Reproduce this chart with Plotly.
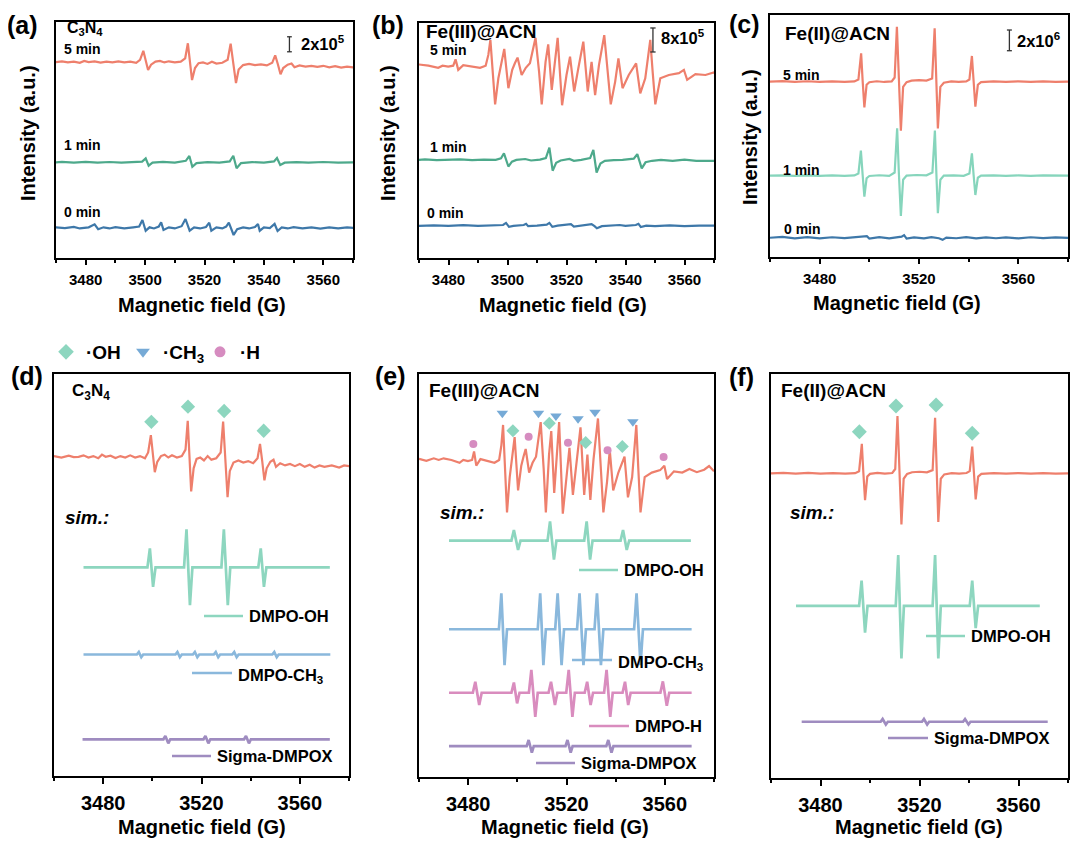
import plotly.graph_objects as go

W, H = 1080, 845
SH = 8  # page body margin of the html page, compensated here
FONT = "Arial, 'Liberation Sans', Helvetica, sans-serif"

# ------------------------------------------------------------------ data
# (field in G, intensity in units of 1e5 counts)
C3N4_5MIN = [(3460,0.05),(3463,-0.05),(3466,0.08),(3468,-0.02),(3470,0.0),(3472,0.1),(3474,-0.05),(3476,0.05),
             (3478,-0.1),(3479.5,0.15),(3481,0.0),(3483,0.08),(3485,-0.08),(3487,0.05),(3489,-0.05),(3491,0.1),
             (3493,-0.05),(3495,0.05),(3497,-0.1),(3498.3,0.3),(3499.4,1.5),(3500.3,0.1),(3501.0,-1.07),(3502,-0.35),
             (3503.5,0.05),(3505,0.15),(3506.5,-0.05),(3508,0.1),(3510,-0.05),(3512,0.05),(3513.5,0.5),(3514.4,2.5),
             (3515.1,0.1),(3515.8,-2.4),(3516.8,-0.8),(3518,-0.15),(3519.5,-0.05),(3521,-0.25),(3522.5,0.05),
             (3524,-0.2),(3526,-0.1),(3527.8,0.3),(3528.8,2.45),(3529.7,0.0),(3530.6,-2.8),(3531.5,-1.0),(3533,-0.4),
             (3535,-0.25),(3537,-0.4),(3539,-0.3),(3541,-0.45),(3542.8,-0.1),(3543.8,0.9),(3544.7,-0.3),
             (3545.6,-1.64),(3546.5,-0.8),(3548,-0.35),(3549.3,-0.2),(3550.3,-0.7),(3552,-0.45),(3554,-0.6),
             (3556,-0.5),(3558,-0.65),(3560,-0.5),(3562,-0.7),(3564,-0.55),(3566,-0.75),(3568,-0.6),(3570,-0.7),
             (3573,-0.6),(3576,-0.75),(3578,-0.6),(3580,-0.65)]
C3N4_1MIN = [(3460,0.0),(3464,0.05),(3468,-0.05),(3472,0.05),(3476,-0.03),(3480,0.05),(3484,-0.05),(3488,0.04),
             (3492,-0.03),(3496,0.04),(3499,0.1),(3500.2,0.53),(3501.2,-0.45),(3502.5,-0.05),(3506,0.05),(3510,-0.04),
             (3513.7,0.2),(3514.9,0.84),(3515.9,-0.59),(3517.3,-0.1),(3521,0.03),(3525,-0.04),(3528.5,0.12),
             (3529.7,0.88),(3530.8,-0.8),(3532.3,-0.1),(3536,0.03),(3540,-0.03),(3543.4,0.12),(3544.4,0.57),
             (3545.5,-0.36),(3547,-0.05),(3551,0.03),(3555,-0.03),(3560,0.04),(3565,-0.03),(3570,0.03),(3575,-0.02),
             (3580,0.0)]
C3N4_0MIN = [(3460,0.0),(3464,0.08),(3467,-0.08),(3470,0.05),(3473,-0.05),(3476,0.1),(3478,-0.1),(3481,0.05),
             (3483,0.45),(3484.2,-0.2),(3486,0.05),(3488,-0.1),(3490,0.08),(3493,-0.08),(3496,0.05),(3498,0.15),
             (3499.1,1.03),(3500.2,-0.4),(3501.5,0.05),(3503,-0.1),(3504.6,0.15),(3505.4,0.72),(3506.2,-0.3),
             (3508,0.05),(3510,-0.1),(3512.3,0.2),(3513.6,1.16),(3515,-0.4),(3516.5,0.05),(3518.5,-0.1),(3520.5,0.1),
             (3521.6,0.67),(3522.3,-0.4),(3524,0.05),(3526,-0.1),(3527.3,0.15),(3528.2,0.67),(3529.8,-0.97),
             (3531,-0.2),(3533,0.05),(3535,-0.1),(3537,0.1),(3538,0.5),(3538.6,-0.4),(3540,0.05),(3542,-0.05),
             (3543.6,0.5),(3544.6,-0.44),(3546,0.05),(3548,-0.1),(3550,0.08),(3553,-0.1),(3556,0.05),(3559,-0.12),
             (3562,0.05),(3565,-0.08),(3568,0.05),(3571,-0.06),(3575,0.05),(3580,-0.02)]

FE3_5MIN = [(3460,0.3),(3463,-0.2),(3466,0.4),(3468,0.0),(3470,0.4),(3473.2,0.0),(3476.5,-0.7),(3478,0.0),
            (3479.9,-0.3),(3481.6,0.0),(3482.4,2.1),(3483.3,-1.4),(3485,0.2),(3487.8,-0.3),(3490.7,-0.7),
            (3492.6,0.0),(3493.5,3.6),(3494.2,8.6),(3495,-2.0),(3495.8,-12.9),(3496.9,-4.2),(3497.8,0.2),
            (3498.9,5.6),(3500.3,-7.5),(3501.6,-1.4),(3502.5,0.8),(3503.4,2.7),(3504.8,-3.1),(3506.2,-0.7),
            (3507.6,0.8),(3509.5,9.3),(3510.7,-2.0),(3511.6,-12.9),(3512.9,1.3),(3513.8,7.1),(3515,-8.1),
            (3516,1.0),(3517,9.3),(3518.5,-13.2),(3520,-3.1),(3521.2,3.0),(3522.6,-8.6),(3524,-0.9),(3525.7,8.0),
            (3527.2,-8.6),(3528.5,1.3),(3529.7,-9.8),(3531,0.2),(3532.8,10.2),(3534.2,-3.1),(3535,-12.9),
            (3536.5,-5.3),(3537.6,2.4),(3539,-7.5),(3541.1,-3.1),(3543.6,0.8),(3545,-9.2),(3546.7,-4.2),
            (3548.4,8.6),(3549.2,-2.0),(3550.1,-12.9),(3551.8,-4.2),(3554.7,-3.1),(3558.1,-2.5),(3559.8,-1.4),
            (3560.9,-4.7),(3563.7,-2.8),(3567.1,-3.1),(3570,-2.2),(3573,-3.0),(3576,-2.4),(3578,-1.5),(3580,-2.8)]
FE3_1MIN = [(3460,0.0),(3464,0.2),(3468,-0.1),(3472,0.15),(3476,-0.1),(3480,0.1),(3484,0.2),(3488,-0.1),
            (3492,0.1),(3496,0.0),(3497.8,0.5),(3498.8,2.2),(3500.3,-2.2),(3501.5,-0.6),(3503,0.0),(3506,0.3),
            (3508,-0.2),(3511,0.1),(3513,0.6),(3514.2,4.1),(3515.3,-3.6),(3516.5,-1.0),(3518,-0.2),(3521,0.3),
            (3522.5,-0.3),(3525,0.0),(3528,0.6),(3529.1,3.3),(3530.2,-4.2),(3531.5,-1.2),(3533,-0.3),(3536,-0.1),
            (3539,0.0),(3542.8,0.4),(3544,1.9),(3545.5,-2.8),(3546.8,-0.8),(3549,-0.3),(3552,0.0),(3556,-0.3),
            (3560,0.1),(3564,-0.3),(3568,-0.2),(3572,-0.35),(3576,-0.2),(3580,-0.3)]
FE3_0MIN = [(3460,0.0),(3465,0.15),(3470,-0.1),(3475,0.1),(3480,-0.1),(3485,0.15),(3490,-0.1),(3495,0.05),
            (3498.5,0.2),(3499.5,0.9),(3500.5,-0.4),(3502,-0.1),(3505.5,0.2),(3506.3,0.6),(3507,-0.2),(3510,0.0),
            (3513.3,0.3),(3514.2,0.9),(3515.2,-0.4),(3517,0.0),(3521.5,0.5),(3522.5,-0.3),(3525,0.0),(3528.5,0.5),
            (3529.5,-0.2),(3530.3,-0.9),(3532,-0.2),(3535,0.0),(3538,0.2),(3540,-0.1),(3543.5,0.2),(3544.4,0.6),
            (3545.2,-0.5),(3547,0.0),(3550,-0.15),(3555,0.1),(3560,-0.2),(3565,0.0),(3570,-0.15),(3575,0.0),
            (3580,-0.1)]

FE2_5MIN = [(3460,0.0),(3465,0.5),(3470,-0.3),(3475,0.4),(3480,-0.2),(3485,0.3),(3490,-0.3),(3494,0.2),
            (3495.6,2.0),(3496.7,27.4),(3497.3,1.0),(3498,-24.8),(3498.9,-3.0),(3500,-0.5),(3503,0.4),(3506,-0.3),
            (3509,0.3),(3510.2,4.0),(3511.1,53.1),(3511.8,2.0),(3512.7,-47.3),(3513.6,-5.0),(3515,-0.5),(3517,1.0),
            (3520,1.5),(3523,1.0),(3525.3,3.0),(3526.3,51.5),(3527,2.0),(3527.6,-45.1),(3528.6,-5.0),(3530,-1.0),
            (3533,0.2),(3536,-0.3),(3539,0.3),(3540.3,2.0),(3541.3,24.8),(3542,0.5),(3542.7,-24.2),(3543.7,-3.0),
            (3545,-0.5),(3550,0.3),(3555,-0.3),(3560,0.3),(3565,-0.2),(3570,0.2),(3575,-0.3),(3580,0.0)]
FE2_1MIN = [(3460,0.0),(3465,0.3),(3470,-0.3),(3475,0.3),(3480,-0.2),(3485,0.3),(3490,-0.2),(3494,0.2),
            (3495.6,2.0),(3496.6,24.2),(3497.3,1.0),(3498,-20.3),(3498.9,-2.5),(3500,-0.3),(3504,0.4),(3508,-0.2),
            (3510.2,3.0),(3511.2,45.8),(3511.9,2.0),(3512.7,-39.0),(3513.6,-4.0),(3515,0.0),(3519,0.6),(3523,0.3),
            (3525.4,3.0),(3526.4,43.5),(3527,2.0),(3527.6,-36.3),(3528.6,-4.0),(3530,0.0),(3534,0.3),(3538,-0.2),
            (3540.3,2.0),(3541.3,21.6),(3542,0.5),(3542.7,-18.7),(3543.7,-2.0),(3545,0.0),(3550,0.3),(3555,-0.2),
            (3560,0.2),(3565,-0.2),(3570,0.2),(3575,-0.2),(3580,0.0)]
FE2_0MIN = [(3460,0.0),(3465,0.8),(3470,-0.5),(3475,0.6),(3480,-0.6),(3485,0.5),(3490,-0.4),(3495,0.6),
            (3499,1.5),(3500,-0.8),(3504,0.6),(3508,-0.6),(3513,1.0),(3514,2.5),(3515,-0.8),(3518,0.4),(3522,-0.6),
            (3525,0.5),(3528,-0.5),(3529.5,-2.0),(3531,0.2),(3535,-0.5),(3539,0.6),(3543,-0.6),(3547,0.4),
            (3551,-0.5),(3555,0.4),(3560,-0.6),(3565,0.5),(3570,-0.4),(3575,0.3),(3580,-0.2)]

# simulated spectra (a.u.)
SIM_D_OH = [(3472,0),(3498,0),(3499,1.32),(3500.3,-1.35),(3501.3,0),(3512.9,0),(3513.9,2.64),(3515.3,-2.62),
            (3516.3,0),(3528.1,0),(3529.1,2.64),(3530.7,-2.62),(3531.7,0),(3543.1,0),(3544.1,1.32),(3545.4,-1.35),
            (3546.4,0),(3572.2,0)]
SIM_D_CH3 = [(3472,0),(3493.7,0),(3494.5,0.17),(3495.5,-0.19),(3496.3,0),(3509.4,0),(3510.2,0.17),(3511.2,-0.19),
             (3512,0),(3516.5,0),(3517.3,0.17),(3518.3,-0.19),(3519.1,0),(3525,0),(3525.8,0.17),(3526.8,-0.19),
             (3527.6,0),(3532.5,0),(3533.3,0.17),(3534.3,-0.19),(3535.1,0),(3548.8,0),(3549.6,0.17),
             (3550.6,-0.19),(3551.4,0),(3572.4,0)]
SIM_D_SIG = [(3471.6,0),(3504.5,0),(3505.3,0.23),(3506.5,-0.28),(3507.3,0),(3520.8,0),(3521.6,0.23),
             (3522.8,-0.28),(3523.6,0),(3537.3,0),(3538.1,0.23),(3539.3,-0.28),(3540.1,0),(3572.2,0)]
SIM_E_OH = [(3472.2,0),(3497.6,0),(3498.6,2.6),(3500.3,-2.3),(3501.3,0),(3512.3,0),(3513.3,4.7),(3514.9,-4.7),
            (3515.9,0),(3527.2,0),(3528.2,4.7),(3529.6,-4.7),(3530.6,0),(3542,0),(3543,2.6),(3544.5,-2.3),
            (3545.5,0),(3570.6,0)]
SIM_E_CH3 = [(3472.2,0),(3492.5,0),(3493.5,8.85),(3494.8,-8.8),(3495.8,0),(3508.3,0),(3509.3,8.85),
             (3510.6,-8.8),(3511.6,0),(3515.4,0),(3516.4,8.85),(3518,-8.8),(3519,0),(3524.3,0),(3525.3,8.85),
             (3526.9,-8.8),(3527.9,0),(3531.4,0),(3532.4,8.85),(3534,-8.8),(3535,0),(3547.5,0),(3548.5,8.85),
             (3550.1,-8.8),(3551.1,0),(3570.9,0)]
SIM_E_H = [(3472.2,0),(3481.9,0),(3482.9,2.7),(3484.5,-3.0),(3485.5,0),(3497.6,0),(3498.6,2.5),(3499.9,-2.6),
           (3500.9,0),(3504.7,0),(3505.7,5.6),(3507.3,-5.9),(3508.3,0),(3512.7,0),(3513.7,2.7),(3515.3,-3.0),
           (3516.3,0),(3519.9,0),(3520.9,5.6),(3522.4,-5.9),(3523.4,0),(3527.4,0),(3528.4,2.7),(3529.8,-3.0),
           (3530.8,0),(3535.3,0),(3536.3,5.6),(3537.8,-5.9),(3538.8,0),(3542.8,0),(3543.8,2.7),(3545.1,-3.0),
           (3546.1,0),(3558.2,0),(3559.2,2.8),(3560.8,-3.2),(3561.8,0),(3570.9,0)]
SIM_E_SIG = [(3472.2,0),(3503.8,0),(3504.6,1.5),(3505.9,-1.6),(3506.7,0),(3519.6,0),(3520.4,1.5),(3521.7,-1.6),
             (3522.5,0),(3536.2,0),(3537,1.5),(3538.3,-1.6),(3539.1,0),(3570.9,0)]
SIM_F_OH = [(3470.1,0),(3495.6,0),(3496.6,23.4),(3498,-24.7),(3499,0),(3510.4,0),(3511.4,47.2),(3512.7,-48.5),
            (3513.7,0),(3525.3,0),(3526.3,47.2),(3527.6,-48.5),(3528.6,0),(3540.3,0),(3541.3,23.4),
            (3542.7,-20.5),(3543.7,0),(3568.6,0)]
SIM_F_SIG = [(3472.4,0),(3504.3,0),(3505.1,2.5),(3506.4,-2.5),(3507.2,0),(3521,0),(3521.8,2.5),(3523.1,-2.5),
             (3523.9,0),(3537.6,0),(3538.4,2.5),(3539.8,-2.5),(3540.6,0),(3571.8,0)]

# radical markers: field (G) and height above the experimental baseline (a.u.)
MARK_D_OH_X = [3499.6, 3514.5, 3529.2, 3545.3]
MARK_D_OH_Y = [2.43, 3.48, 3.18, 1.81]
MARK_E_CH3_X = [3493.9, 3508.6, 3515.7, 3524.7, 3531.6, 3547.0]
MARK_E_CH3_Y = [11.5, 11.5, 10.8, 10.1, 11.7, 9.4]
MARK_E_OH_X = [3498.2, 3513.0, 3527.8, 3542.7]
MARK_E_OH_Y = [7.2, 9.0, 4.3, 3.3]
MARK_E_H_X = [3482.1, 3504.6, 3520.6, 3536.7, 3559.5]
MARK_E_H_Y = [3.9, 5.7, 4.2, 2.4, 0.7]
MARK_F_OH_X = [3495.7, 3510.5, 3526.7, 3541.3]
MARK_F_OH_Y = [38.5, 62.3, 63.3, 37.1]

TIME_LABELS = ["5 min", "1 min", "0 min"]
SCALE_VALUES = [2, 8, 20]          # x 1e5
SCALE_LABELS = ["2x10<sup>5</sup>", "8x10<sup>5</sup>", "2x10<sup>6</sup>"]
X_TICKS_AB = [3480, 3500, 3520, 3540, 3560]
X_TICKS_WIDE = [3480, 3520, 3560]

# ------------------------------------------------------------------ style
RED = "#EE7F6C"
TEAL = "#4DA98B"
MINT1 = "#86D5BC"
BLUE0 = "#3E78A9"
C_OH = "#8DD6BF"
C_CH3 = "#8AB8DC"
C_H = "#D98CBE"
C_SIG = "#9F8CC0"
M_OH = "#8DD6BF"
M_CH3 = "#76AAD6"
M_H = "#D68CC0"

# panel geometry (reference pixels): x0, x1, y0(top), y1(bottom), field range, y range
PANELS = {
    1: dict(x=(56, 353), y=(22, 258), xr=(3470, 3570), yr=31.47, ticks=X_TICKS_AB, minor=10, tf=15, tl=5),
    2: dict(x=(419, 714), y=(23, 258), xr=(3470, 3570), yr=78.33, ticks=X_TICKS_AB, minor=10, tf=15, tl=5),
    3: dict(x=(770, 1068), y=(15, 257), xr=(3460, 3580), yr=233.8, ticks=X_TICKS_WIDE, minor=20, tf=15, tl=5),
    4: dict(x=(54, 349), y=(374, 776), xr=(3460, 3580), yr=27.92, ticks=X_TICKS_WIDE, minor=20, tf=20, tl=6),
    5: dict(x=(419, 714), y=(374, 777), xr=(3460, 3580), yr=99.02, ticks=X_TICKS_WIDE, minor=20, tf=20, tl=6),
    6: dict(x=(771, 1068), y=(374, 778), xr=(3460, 3580), yr=374.1, ticks=X_TICKS_WIDE, minor=20, tf=20, tl=6),
}


def px(x):
    return (x - SH) / W


def py(y):
    return 1 - (y - SH) / H


fig = go.Figure()


def ax(n, kind):
    return kind if n == 1 else f"{kind}{n}"


def spectrum(points, n, offset, color, width=2.2):
    fig.add_trace(go.Scatter(
        x=[p[0] for p in points], y=[offset + p[1] for p in points],
        mode="lines", line=dict(color=color, width=width), showlegend=False,
        xaxis=ax(n, "x"), yaxis=ax(n, "y"), hoverinfo="skip"))


def markers(xs, ys, n, offset, symbol, color, size):
    fig.add_trace(go.Scatter(
        x=xs, y=[offset + v for v in ys], mode="markers",
        marker=dict(symbol=symbol, color=color, size=size, line=dict(width=0)),
        showlegend=False, xaxis=ax(n, "x"), yaxis=ax(n, "y"), hoverinfo="skip"))


# top row
spectrum(C3N4_5MIN, 1, 26.13, RED)
spectrum(C3N4_1MIN, 1, 12.76, TEAL)
spectrum(C3N4_0MIN, 1, 4.04, BLUE0)
spectrum(FE3_5MIN, 2, 64.1, RED)
spectrum(FE3_1MIN, 2, 32.7, TEAL)
spectrum(FE3_0MIN, 2, 10.8, BLUE0)
spectrum(FE2_5MIN, 3, 169.4, RED)
spectrum(FE2_1MIN, 3, 78.6, MINT1)
spectrum(FE2_0MIN, 3, 18.6, BLUE0)

# bottom row
spectrum(C3N4_5MIN, 4, 22.17, RED)
spectrum(SIM_D_OH, 4, 14.49, C_OH, 2.7)
spectrum(SIM_D_CH3, 4, 8.44, C_CH3, 2.7)
spectrum(SIM_D_SIG, 4, 2.55, C_SIG, 2.7)
markers(MARK_D_OH_X, MARK_D_OH_Y, 4, 22.17, "diamond", M_OH, 11)

spectrum(FE3_5MIN, 5, 77.9, RED)
spectrum(SIM_E_OH, 5, 58.1, C_OH, 2.7)
spectrum(SIM_E_CH3, 5, 36.3, C_CH3, 2.7)
spectrum(SIM_E_H, 5, 20.7, C_H, 2.7)
spectrum(SIM_E_SIG, 5, 7.6, C_SIG, 2.7)
markers(MARK_E_CH3_X, MARK_E_CH3_Y, 5, 77.9, "triangle-down", M_CH3, 10)
markers(MARK_E_OH_X, MARK_E_OH_Y, 5, 77.9, "diamond", M_OH, 10)
markers(MARK_E_H_X, MARK_E_H_Y, 5, 77.9, "circle", M_H, 8)

spectrum(FE2_5MIN, 6, 282.1, RED)
spectrum(SIM_F_OH, 6, 159.3, C_OH, 2.7)
spectrum(SIM_F_SIG, 6, 52.1, C_SIG, 2.7)
markers(MARK_F_OH_X, MARK_F_OH_Y, 6, 282.1, "diamond", M_OH, 11.5)

# legend entries
for name, sym, col, sz in [("·OH", "diamond", M_OH, 12), ("·CH<sub>3</sub>", "triangle-down", M_CH3, 12),
                           ("·H", "circle", M_H, 11)]:
    fig.add_trace(go.Scatter(x=[None], y=[None], mode="markers", name=name,
                             marker=dict(symbol=sym, color=col, size=sz), xaxis="x4", yaxis="y4"))

# axes
layout = {}
for n, p in PANELS.items():
    layout[ax(n, "xaxis")] = dict(
        domain=[px(p["x"][0]), px(p["x"][1])], anchor=ax(n, "y"), range=list(p["xr"]),
        tickmode="array", tickvals=p["ticks"], ticktext=[str(t) for t in p["ticks"]],
        ticks="outside", ticklen=p["tl"], tickwidth=2, tickcolor="black",
        minor=dict(ticks="outside", ticklen=3, tickwidth=2, tickcolor="black", dtick=p["minor"],
                   tick0=p["xr"][0], showgrid=False),
        tickfont=dict(family=FONT, size=p["tf"], color="black", weight="bold"),
        showline=True, linewidth=2, linecolor="black", mirror=True,
        showgrid=False, zeroline=False, fixedrange=True, ticklabelstandoff=2)
    layout[ax(n, "yaxis")] = dict(
        domain=[py(p["y"][1]), py(p["y"][0])], anchor=ax(n, "x"), range=[0, p["yr"]],
        showticklabels=False, ticks="", showline=True, linewidth=2, linecolor="black", mirror=True,
        showgrid=False, zeroline=False, fixedrange=True)

fig.update_layout(**layout)


def txt(s, x, y, size, xanchor="left", bold=True, italic=False, angle=0):
    fig.add_annotation(text=s, x=px(x), y=py(y), xref="paper", yref="paper", xanchor=xanchor,
                       yanchor="middle", showarrow=False, textangle=angle,
                       font=dict(family=FONT, size=size, color="black",
                                 weight="bold" if bold else "normal",
                                 style="italic" if italic else "normal"))


# panel letters
for s, x, y in [("(a)", 22, 25), ("(b)", 388, 25), ("(c)", 744, 24),
                ("(d)", 27, 376), ("(e)", 390, 376), ("(f)", 741, 377)]:
    txt(s, x, y, 25, "center")

# axis titles
for x, y in [(202, 305), (563, 305), (897, 303), (202, 827), (565, 827), (919, 827)]:
    txt("Magnetic field (G)", x, y, 20, "center")
for x, y in [(28, 133), (388, 133), (750, 137)]:
    txt("Intensity (a.u.)", x, y, 20, "center", angle=-90)

# sample names
txt("C<sub>3</sub>N<sub>4</sub>", 65, 29, 16)
txt("Fe(III)@ACN", 424, 32, 19)
txt("Fe(II)@ACN", 783, 33, 19)
txt("C<sub>3</sub>N<sub>4</sub>", 70, 392, 17)
txt("Fe(III)@ACN", 427, 390, 19)
txt("Fe(II)@ACN", 779, 390, 19)

# time labels
for (xs, ys) in [((62, 62, 62), (49, 145, 212)), ((428, 428, 425), (50, 147, 213)),
                 ((781, 781, 782), (75, 170, 229))]:
    for lab, x, y in zip(TIME_LABELS, xs, ys):
        txt(lab, x, y, 14)

# scale bars (data coordinates)
for n, xf, y0, val, lab, lx, ly, cap in [
        (1, 3548.6, 27.5, SCALE_VALUES[0], SCALE_LABELS[0], 299, 43, 0.8),
        (2, 3549.3, 68.67, SCALE_VALUES[1], SCALE_LABELS[1], 659, 37, 0.9),
        (3, 3556.4, 199.3, SCALE_VALUES[2], SCALE_LABELS[2], 1015, 40, 1.0)]:
    xr, yr = ax(n, "x"), ax(n, "y")
    fig.add_shape(type="line", xref=xr, yref=yr, x0=xf, x1=xf, y0=y0, y1=y0 + val,
                  line=dict(color="#333333", width=1.3))
    for yy in (y0, y0 + val):
        fig.add_shape(type="line", xref=xr, yref=yr, x0=xf - cap, x1=xf + cap, y0=yy, y1=yy,
                      line=dict(color="#333333", width=1.3))
    txt(lab, lx, ly, 16.5)

# sim. labels
for x, y in [(63, 517), (438, 512), (788, 512)]:
    txt("sim.:", x, y, 19, italic=True)

# simulation legends: line sample + name
for x0, x1, y, col, name in [
        (204, 243, 616, C_OH, "DMPO-OH"), (192, 232, 673, C_CH3, "DMPO-CH<sub>3</sub>"),
        (172, 211, 756, C_SIG, "Sigma-DMPOX"),
        (579, 618, 570, C_OH, "DMPO-OH"), (572, 612, 660, C_CH3, "DMPO-CH<sub>3</sub>"),
        (589, 629, 726, C_H, "DMPO-H"), (536, 575, 763, C_SIG, "Sigma-DMPOX"),
        (926, 965, 636, C_OH, "DMPO-OH"), (888, 928, 738, C_SIG, "Sigma-DMPOX")]:
    fig.add_shape(type="line", xref="paper", yref="paper", x0=px(x0), x1=px(x1),
                  y0=py(y), y1=py(y), line=dict(color=col, width=2.7))
    ty = y + 3 if "sub" in name else y
    txt(name, x1 + 4, ty, 16.5)

fig.update_layout(
    width=W, height=H, margin=dict(l=0, r=0, t=0, b=0),
    paper_bgcolor="white", plot_bgcolor="white",
    showlegend=True,
    legend=dict(orientation="h", x=px(46), y=py(352), xanchor="left", yanchor="middle",
                font=dict(family=FONT, size=19, color="black", weight="bold"),
                bgcolor="rgba(0,0,0,0)", entrywidth=32, entrywidthmode="pixels",
                itemsizing="trace", tracegroupgap=0),
)

fig.write_html("out.html")
